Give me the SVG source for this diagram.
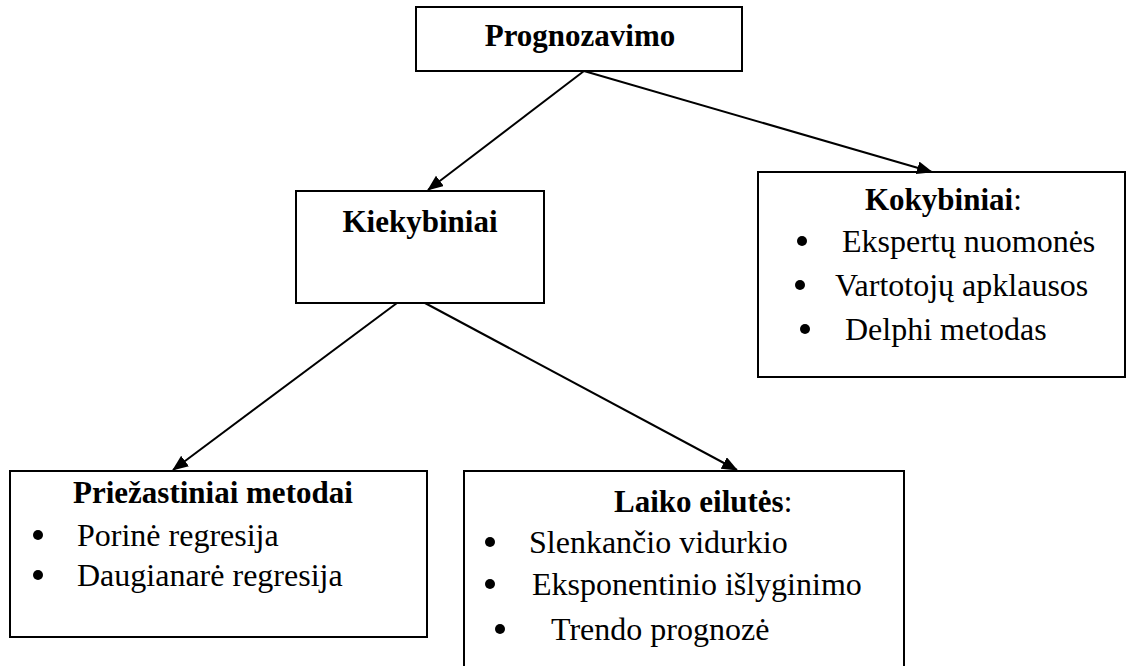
<svg xmlns="http://www.w3.org/2000/svg" width="1128" height="666" viewBox="0 0 1128 666">
  <style>
    text { font-family: 'Times New Roman', 'Liberation Serif', Tinos, 'DejaVu Serif', serif; font-size: 32px; fill: #000; }
    .box { fill: #fff; stroke: #000; stroke-width: 2; }
    .title { font-weight: bold; font-size: 31px; }
    .plain { font-weight: normal; }
    .bullet { fill: #000; }
    .edge { stroke: #000; stroke-width: 2; fill: none; marker-end: url(#arrow); }
  </style>
  <defs>
    <marker id="arrow" markerUnits="userSpaceOnUse" markerWidth="16" markerHeight="14" refX="15" refY="6.5" orient="auto">
      <path d="M0,0 L16,6.5 L0,13 z" fill="#000"/>
    </marker>
  </defs>
  <rect width="1128" height="666" fill="#fff"/>

  <g id="node-prognozavimo">
    <rect class="box" x="416" y="7" width="326" height="64"/>
    <text class="title" x="580" y="46" text-anchor="middle">Prognozavimo</text>
  </g>

  <g id="node-kiekybiniai">
    <rect class="box" x="296" y="191" width="248" height="112"/>
    <text class="title" x="420" y="232" text-anchor="middle">Kiekybiniai</text>
  </g>

  <g id="node-kokybiniai">
    <rect class="box" x="758" y="172" width="367" height="205"/>
    <text class="title" x="865" y="210">Kokybiniai<tspan class="plain">:</tspan></text>
    <circle class="bullet" cx="802" cy="241" r="5"/>
    <text x="842" y="252">Ekspertų nuomonės</text>
    <circle class="bullet" cx="800" cy="285" r="5"/>
    <text x="835" y="296">Vartotojų apklausos</text>
    <circle class="bullet" cx="805" cy="329" r="5"/>
    <text x="845" y="340">Delphi metodas</text>
  </g>

  <g id="node-priezastiniai">
    <rect class="box" x="10" y="471" width="417" height="166"/>
    <text class="title" x="73" y="503">Priežastiniai metodai</text>
    <circle class="bullet" cx="38" cy="535" r="5"/>
    <text x="77" y="546">Porinė regresija</text>
    <circle class="bullet" cx="38" cy="575" r="5"/>
    <text x="77" y="586">Daugianarė regresija</text>
  </g>

  <g id="node-laiko-eilutes">
    <rect class="box" x="464" y="471" width="440" height="210"/>
    <text class="title" x="614" y="512">Laiko eilutės<tspan class="plain">:</tspan></text>
    <circle class="bullet" cx="490" cy="542" r="5"/>
    <text x="529" y="553">Slenkančio vidurkio</text>
    <circle class="bullet" cx="490" cy="584" r="5"/>
    <text x="532" y="595">Eksponentinio išlyginimo</text>
    <circle class="bullet" cx="500" cy="629" r="5"/>
    <text x="551" y="640">Trendo prognozė</text>
  </g>

  <g id="connectors">
    <line class="edge" x1="584" y1="71" x2="428" y2="190"/>
    <line class="edge" x1="584" y1="71" x2="932" y2="172"/>
    <line class="edge" x1="397" y1="303" x2="173" y2="470"/>
    <line class="edge" x1="425" y1="303" x2="737" y2="470"/>
  </g>
</svg>
